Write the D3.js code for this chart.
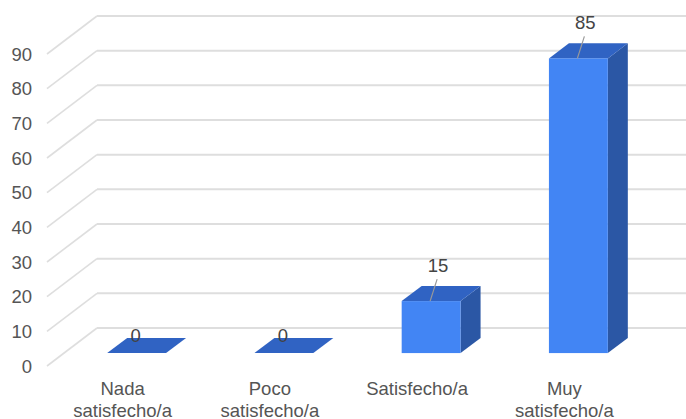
<!DOCTYPE html>
<html>
<head>
<meta charset="utf-8">
<script src="https://cdn.jsdelivr.net/npm/d3@7"></script>
<style>
  html, body { margin: 0; padding: 0; background: #fff; }
  svg { display: block; font-family: "Liberation Sans", Arial, sans-serif; }
</style>
</head>
<body>
<svg id="chart" width="686" height="419"></svg>
<script>
// Satisfaction survey results (percent)
const categories = [["Nada", "satisfecho/a"], ["Poco", "satisfecho/a"], ["Satisfecho/a"], ["Muy", "satisfecho/a"]];
const values = [0, 0, 15, 85];
const yTicks = [0, 10, 20, 30, 40, 50, 60, 70, 80, 90];

const W = 686, H = 419;
const svg = d3.select("#chart");
const FONT = 18.5;

// Oblique 3D projection: depth vector from the front plane to the back wall
const depth = { dx: 50, dy: -38 };
const barDepthStart = 0.34, barDepthEnd = 0.74;

const keys = categories.map(c => c.join(" "));
const x = d3.scaleBand().domain(keys).range([46, 635]).paddingInner(0.6).paddingOuter(0.3);
const xCat = d3.scaleBand().domain(keys).range([46, 635]);
const y = d3.scaleLinear().domain([0, 90]).range([366, 54]);

// Gridlines: diagonal on the side wall, horizontal on the back wall
const grid = svg.append("g");
yTicks.forEach(t => {
  const fx = 47, fy = y(t);
  const bx = fx + depth.dx, by = fy + depth.dy;
  grid.append("line").attr("x1", fx).attr("y1", fy).attr("x2", bx).attr("y2", by)
    .attr("stroke", "#dedede").attr("stroke-width", 1.6);
  grid.append("line").attr("x1", bx).attr("y1", by).attr("x2", W).attr("y2", by)
    .attr("stroke", "#dedede").attr("stroke-width", 2);
});

// Y axis tick labels
svg.append("g").selectAll("text").data(yTicks).join("text")
  .attr("x", 32).attr("y", d => y(d)).attr("dy", "0.36em")
  .attr("text-anchor", "end").attr("font-size", FONT).attr("fill", "#555")
  .text(d => d);

// Bars
const bars = svg.append("g");
const ox = depth.dx * barDepthStart, oy = depth.dy * barDepthStart;
const bdx = depth.dx * (barDepthEnd - barDepthStart), bdy = depth.dy * (barDepthEnd - barDepthStart);
const pts = a => a.map(p => p.join(",")).join(" ");

keys.forEach((k, i) => {
  const v = values[i];
  const x0 = x(k) + ox, x1 = x0 + x.bandwidth();
  const yb = y(0) + oy, yt = y(v) + oy;
  if (v > 0) {
    bars.append("polygon").attr("points", pts([[x1, yb], [x1 + bdx, yb + bdy], [x1 + bdx, yt + bdy], [x1, yt]]))
      .attr("fill", "#2b57a5");
  }
  bars.append("polygon").attr("points", pts([[x0, yt], [x1, yt], [x1 + bdx, yt + bdy], [x0 + bdx, yt + bdy]]))
    .attr("fill", "#3063c3");
  if (v > 0) {
    bars.append("rect").attr("x", x0).attr("y", yt).attr("width", x1 - x0).attr("height", yb - yt)
      .attr("fill", "#4285f4");
  }
});

// Value labels (with leader lines for taller bars)
const labels = svg.append("g");
keys.forEach((k, i) => {
  const v = values[i];
  const cx = x(k) + ox + x.bandwidth() / 2;
  const yt = y(v) + oy;
  if (v > 0) {
    labels.append("line").attr("x1", cx - 1).attr("y1", yt).attr("x2", cx + 6).attr("y2", yt - 22)
      .attr("stroke", "#999").attr("stroke-width", 1.2);
    labels.append("text").attr("x", cx + 7).attr("y", yt - 36).attr("dy", "0.36em")
      .attr("text-anchor", "middle").attr("font-size", FONT).attr("fill", "#444").text(v);
  } else {
    labels.append("text").attr("x", cx - 1).attr("y", yt - 18).attr("dy", "0.36em")
      .attr("text-anchor", "middle").attr("font-size", FONT).attr("fill", "#444").text(v);
  }
});

// Category labels
const cat = svg.append("g");
categories.forEach((lines, i) => {
  const cx = xCat(keys[i]) + xCat.bandwidth() / 2 + 3;
  const t = cat.append("text").attr("text-anchor", "middle").attr("font-size", FONT).attr("fill", "#555");
  lines.forEach((ln, j) => {
    t.append("tspan").attr("x", cx).attr("y", 395 + j * 22).text(ln);
  });
});
</script>
</body>
</html>
